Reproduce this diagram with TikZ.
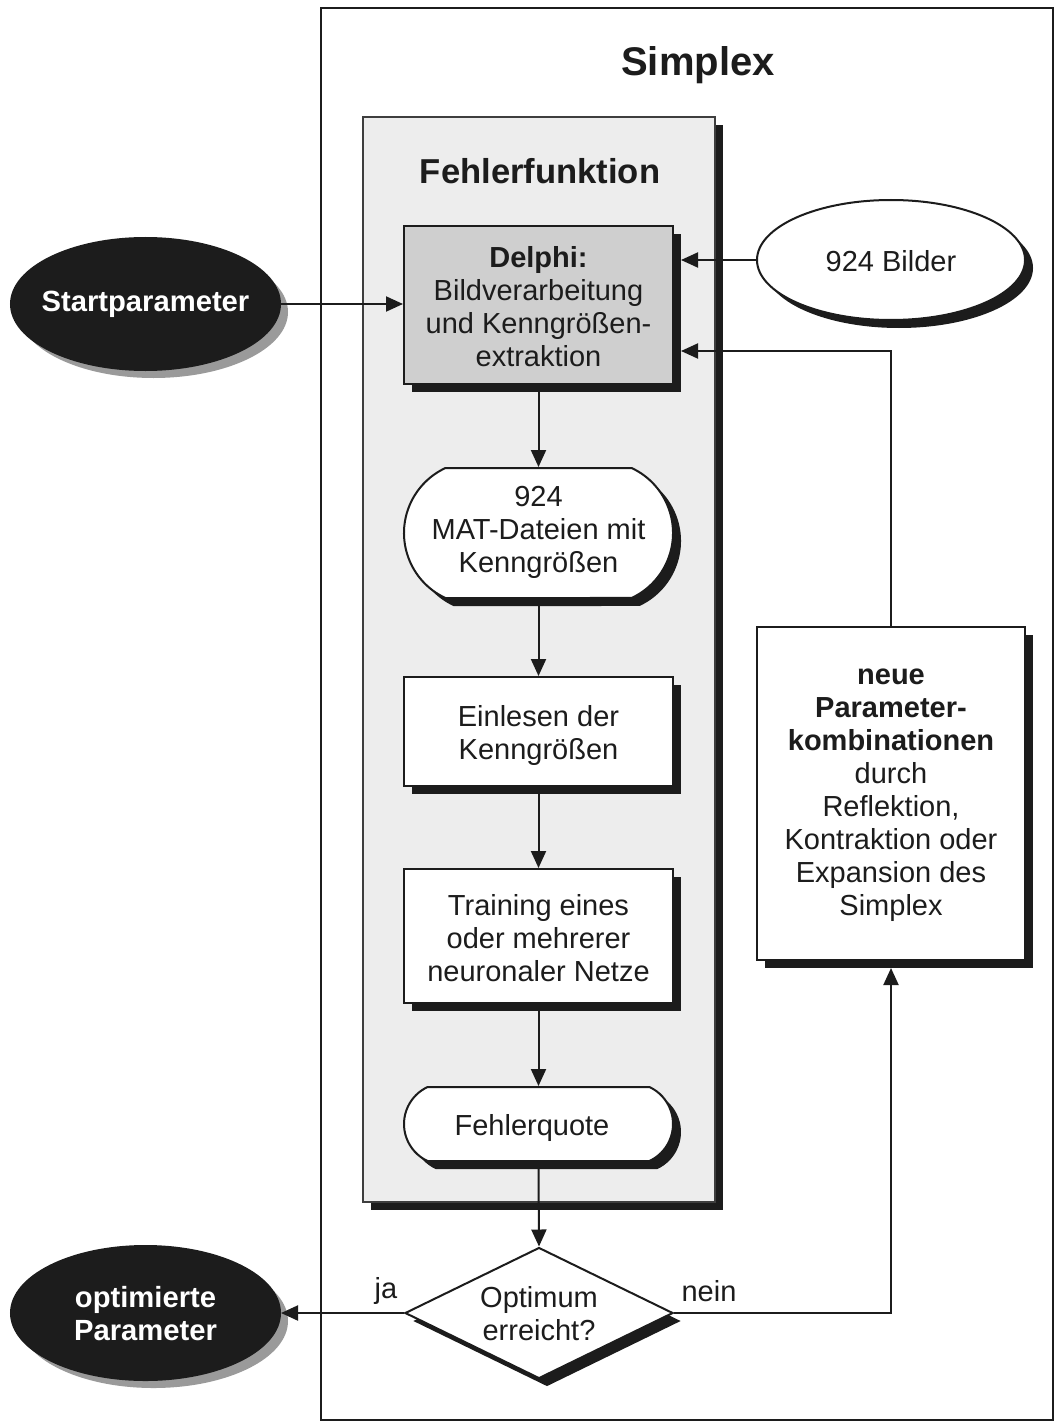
\documentclass[tikz,border=0pt]{standalone}
\usepackage{fontspec}
\setmainfont{Liberation Sans}
\usetikzlibrary{shapes.geometric,shapes.misc,shadows,arrows.meta,calc}
\definecolor{ink}{HTML}{1C1C1C}
\definecolor{panelgray}{HTML}{EDEDED}
\definecolor{delphigray}{HTML}{CFCFCF}
\definecolor{shadegray}{HTML}{9A9A9A}
\tikzset{
  body/.style={font=\fontsize{14.5}{16.5}\selectfont, text=ink, align=center},
  boldwhite/.style={font=\bfseries\fontsize{14.6}{16.5}\selectfont, text=white, align=center},
  blkshadow/.style={drop shadow={shadow xshift=4pt, shadow yshift=-4pt, fill=ink, opacity=1}},
  boxnode/.style={body, rectangle, draw=ink, line width=1pt, fill=white,
    minimum width=134.5pt, inner sep=0pt, blkshadow},
  capsule/.style={body, rounded rectangle, rounded rectangle arc length=130,
    draw=ink, line width=1pt, fill=white, minimum width=134.5pt, inner sep=0pt, blkshadow},
  darkell/.style={ellipse, fill=ink, draw=ink, line width=1pt, minimum width=134.5pt,
    inner sep=0pt, drop shadow={shadow xshift=4pt, shadow yshift=-4pt, fill=shadegray, opacity=1}},
  arr/.style={draw=ink, line width=1pt, -{Triangle[length=8.5pt,width=7.5pt]}},
  plain/.style={draw=ink, line width=1pt}
}
\begin{document}
\begin{tikzpicture}[x=0.5pt,y=-0.5pt]
\useasboundingbox (0,0) rectangle (1063,1423);
\fill[white] (0,0) rectangle (1063,1423);

% outer Simplex frame
\node[draw=ink, line width=1pt, minimum width=366pt, minimum height=706pt, inner sep=0pt] (frame) at (687,714) {};
\node[font=\bfseries\fontsize{20}{24}\selectfont, text=ink] (simplex) at (698,65) {Simplex};

% Fehlerfunktion panel
\node[draw=ink!85, line width=0.8pt, fill=panelgray, minimum width=176pt, minimum height=542.5pt,
  inner sep=0pt, blkshadow] (panel) at (539,659.5) {};
\node[font=\bfseries\fontsize{17.3}{20}\selectfont, text=ink] (fehler) at (540,171) {Fehlerfunktion};

% inner nodes
\node[boxnode, fill=delphigray, minimum height=79pt] (delphi) at (538.5,305) {};
\node[body] (delphitext) at (538.5,307)
  {\textbf{Delphi:}\\Bildverarbeitung\\und Kenngrößen-\\extraktion};
\node[capsule, minimum height=65pt] (mat) at (538.5,533) {};
\node[body] (mattext) at (538.5,532) {924\\MAT-Dateien mit\\Kenngrößen};
\node[boxnode, minimum height=54.5pt] (einlesen) at (538.5,731.5) {};
\node[body] (einlesentext) at (538.5,735) {Einlesen der\\Kenngrößen};
\node[boxnode, minimum height=67pt] (training) at (538.5,936) {};
\node[body] (trainingtext) at (538.5,938) {Training eines\\oder mehrerer\\neuronaler Netze};
\node[capsule, minimum height=37pt] (fq) at (538.5,1124) {};
\node[body] (fqtext) at (532,1128) {Fehlerquote};

\node[diamond, draw=ink, line width=1pt, fill=white, minimum width=134pt, minimum height=65.5pt,
  inner sep=0pt, blkshadow] (dec) at (539,1313) {};
\node[body] (dectext) at (539,1314) {Optimum\\erreicht?};

% outside nodes
\node[ellipse, draw=ink, line width=1pt, fill=white, minimum width=134pt, minimum height=60pt,
  inner sep=0pt, blkshadow] (bilder) at (891,260) {};
\node[body] (bildertext) at (891,261) {924 Bilder};

\node[darkell, minimum height=66pt] (start) at (145.5,304) {};
\node[boldwhite] (starttext) at (145.5,304) {Startparameter};

\node[darkell, minimum height=67pt] (opt) at (145.5,1313) {};
\node[boldwhite] (opttext) at (145.5,1314) {optimierte\\Parameter};

\node[boxnode, minimum width=134pt, minimum height=166.5pt] (neue) at (891,793.5) {};
\node[body] (neuetext) at (891,795)
  {\textbf{neue}\\\textbf{Parameter-}\\\textbf{kombinationen}\\durch\\Reflektion,\\Kontraktion oder\\Expansion des\\Simplex};

% helper coordinates
\coordinate (dR) at (681,0);
\coordinate (fb) at (681,351);
\coordinate (nb) at (891,968);

% connectors
\draw[arr] (start.east) -- (start.east -| delphi.west);
\draw[arr] (bilder.west) -- (bilder.west -| dR);
\draw[arr] (neue.north) |- (fb);
\draw[arr] (delphi.south) -- (mat.north);
\draw[arr] (mat.south) -- (einlesen.north);
\draw[arr] (einlesen.south) -- (training.north);
\draw[arr] (training.south) -- (fq.north);
\draw[arr] (fq.south) -- (dec.north);
\draw[arr] (dec.west) -- (dec.west -| opt.east);
\draw[arr] (dec.east) -| (nb);

\node[body] (ja) at (386,1291) {ja};
\node[body] (nein) at (709,1291) {nein};
\end{tikzpicture}
\end{document}
